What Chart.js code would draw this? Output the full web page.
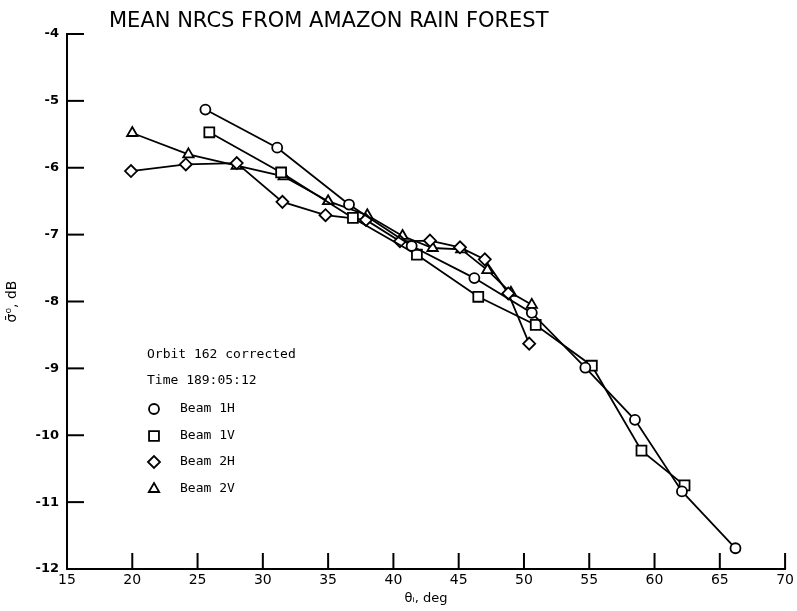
<!DOCTYPE html>
<html>
<head>
<meta charset="utf-8">
<script src="https://cdn.jsdelivr.net/npm/chart.js@4.4.0/dist/chart.umd.min.js"></script>
<style>
  html, body { margin: 0; padding: 0; background: #fff; }
  #wrap { width: 797px; height: 611px; position: relative; }
</style>
</head>
<body>
<div id="wrap"><canvas id="c" width="797" height="611"></canvas></div>
<script>
// incidence angle (deg) and mean NRCS (dB)
const beam1hX = [25.6, 31.1, 36.6, 41.4, 46.2, 50.6, 54.7, 58.5, 62.1, 66.2];
const beam1hY = [-5.13, -5.70, -6.55, -7.17, -7.65, -8.17, -8.99, -9.77, -10.84, -11.69];

const beam1vX = [25.9, 31.4, 36.9, 41.8, 46.5, 50.9, 55.2, 59.0, 62.3];
const beam1vY = [-5.47, -6.07, -6.75, -7.30, -7.93, -8.35, -8.96, -10.23, -10.75];

const beam2hX = [19.9, 24.1, 28.0, 31.5, 34.8, 37.9, 40.5, 42.8, 45.1, 47.0, 48.8, 50.4];
const beam2hY = [-6.05, -5.95, -5.93, -6.51, -6.71, -6.78, -7.10, -7.09, -7.19, -7.37, -7.88, -8.63];

const beam2vX = [20.0, 24.3, 28.0, 31.6, 35.0, 38.0, 40.7, 43.0, 45.2, 47.2, 49.0, 50.6];
const beam2vY = [-5.48, -5.80, -5.97, -6.13, -6.50, -6.71, -7.02, -7.20, -7.22, -7.53, -7.87, -8.05];

const beamNames = ["Beam 1H", "Beam 1V", "Beam 2H", "Beam 2V"];
const notes = ["Orbit 162 corrected", "Time 189:05:12"];
const titleText = "MEAN NRCS FROM AMAZON RAIN FOREST";

const xTicks = [15, 20, 25, 30, 35, 40, 45, 50, 55, 60, 65, 70];
const yTicks = [-4, -5, -6, -7, -8, -9, -10, -11, -12];

function pts(xs, ys) {
  return xs.map((x, i) => ({ x: x, y: ys[i] }));
}

function ds(label, data, style, r) {
  return {
    label: label,
    data: data,
    showLine: true,
    borderColor: "#000",
    borderWidth: 1.8,
    pointStyle: style,
    pointRadius: r,
    pointBorderWidth: 1.8,
    pointBorderColor: "#000",
    pointBackgroundColor: "#fff",
    tension: 0
  };
}

// inward tick marks, title and the text block inside the plot
const decor = {
  id: "decor",
  afterDraw(chart) {
    const ctx = chart.ctx;
    const a = chart.chartArea;
    const sx = chart.scales.x, sy = chart.scales.y;
    ctx.save();
    ctx.strokeStyle = "#000";
    ctx.lineWidth = 2;
    xTicks.forEach(v => {
      const p = sx.getPixelForValue(v);
      ctx.beginPath(); ctx.moveTo(p, a.bottom); ctx.lineTo(p, a.bottom - 16); ctx.stroke();
    });
    yTicks.forEach(v => {
      const p = sy.getPixelForValue(v);
      ctx.beginPath(); ctx.moveTo(a.left, p); ctx.lineTo(a.left + 17, p); ctx.stroke();
    });

    ctx.fillStyle = "#000";
    ctx.textBaseline = "middle";
    ctx.textAlign = "left";
    ctx.font = "21px 'DejaVu Sans'";
    ctx.fillText(titleText, 109, 22);

    ctx.font = "13px 'DejaVu Sans Mono'";
    ctx.fillText(notes[0], 147, 355);
    ctx.fillText(notes[1], 147, 381);

    const rows = [409, 436, 462, 489];
    chart.data.datasets.forEach((d, i) => {
      ctx.lineWidth = 1.8;
      ctx.strokeStyle = "#000";
      ctx.fillStyle = "#fff";
      Chart.helpers.drawPoint(ctx, { pointStyle: d.pointStyle, radius: d.pointRadius, borderWidth: 1.8 }, 154, rows[i]);
      ctx.fillStyle = "#000";
      ctx.fillText(beamNames[i], 180, rows[i]);
    });
    ctx.restore();
  }
};

new Chart(document.getElementById("c"), {
  type: "scatter",
  data: {
    datasets: [
      ds(beamNames[0], pts(beam1hX, beam1hY), "circle", 5),
      ds(beamNames[1], pts(beam1vX, beam1vY), "rect", 7),
      ds(beamNames[2], pts(beam2hX, beam2hY), "rectRot", 6),
      ds(beamNames[3], pts(beam2vX, beam2vY), "triangle", 6)
    ]
  },
  options: {
    responsive: false,
    animation: false,
    layout: { padding: { top: 34, right: 9, left: 0, bottom: 0 } },
    plugins: { legend: { display: false }, tooltip: { enabled: false }, title: { display: false } },
    scales: {
      x: {
        type: "linear",
        min: 15, max: 70,
        afterBuildTicks: s => { s.ticks = xTicks.map(v => ({ value: v })); },
        afterFit: s => { s.height = 42; },
        grid: { display: false, drawTicks: false },
        border: { display: true, color: "#000", width: 2 },
        ticks: { color: "#000", padding: 3, font: { family: "DejaVu Sans", size: 14 } },
        title: { display: true, text: "θᵢ, deg", color: "#000", padding: { top: 0, bottom: 5 }, font: { family: "DejaVu Sans", size: 13 } }
      },
      y: {
        type: "linear",
        min: -12, max: -4,
        afterBuildTicks: s => { s.ticks = yTicks.map(v => ({ value: v })); },
        afterFit: s => { s.width = 67; },
        grid: { display: false, drawTicks: false },
        border: { display: true, color: "#000", width: 2 },
        ticks: { color: "#000", padding: 8, font: { family: "DejaVu Sans", size: 13, weight: "bold" } },
        title: { display: true, text: "σ̄⁰, dB", color: "#000", padding: 4, font: { family: "DejaVu Sans", size: 14 } }
      }
    }
  },
  plugins: [decor]
});
</script>
</body>
</html>
